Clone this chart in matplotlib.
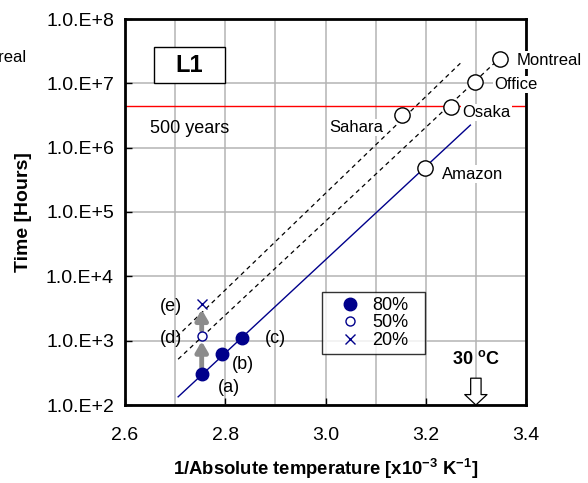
import matplotlib
matplotlib.use('Agg')
import numpy as np
import matplotlib.pyplot as plt
from matplotlib.ticker import FixedLocator
from matplotlib.patches import Rectangle

plt.rcParams['font.family'] = 'Liberation Sans'
plt.rcParams['mathtext.fontset'] = 'custom'
plt.rcParams['mathtext.rm'] = 'Liberation Sans'
plt.rcParams['mathtext.bf'] = 'Liberation Sans:bold'

# measured points (1/T [x1e-3 1/K], hours)
pt_x = [2.753, 2.793, 2.833]          # (a), (b), (c) at 80 %
pt_y = [301, 610, 1107]
d_x, d_y = 2.753, 1200                 # (d) 50 %
e_x, e_y = 2.753, 3660                 # (e) 20 %

# fitted lines (end points)
line80_x = [2.706, 3.289]
line80_y = [134, 2.24e6]
line50_x = [2.706, 3.345]
line50_y = [515, 2.36e7]
line20_x = [2.703, 3.269]
line20_y = [1146, 2.05e7]

# locations
places = ['Sahara', 'Osaka', 'Office', 'Montreal', 'Amazon']
place_x = [3.152, 3.250, 3.299, 3.348, 3.199]
place_y = [3.21e6, 4.24e6, 1.06e7, 2.36e7, 4.76e5]

limit_500y = 500 * 8760

navy = '#00008B'

fig = plt.figure(figsize=(5.88, 4.83), dpi=100)
ax = fig.add_axes([125/588, 78/483, 401/588, 386/483])
ax.set_yscale('log')
ax.set_xlim(2.6, 3.4)
ax.set_ylim(1e2, 1e8)

ax.xaxis.set_major_locator(FixedLocator([2.6, 2.8, 3.0, 3.2, 3.4]))
ax.xaxis.set_minor_locator(FixedLocator([2.7, 2.9, 3.1, 3.3]))
ax.set_xticklabels(['2.6', '2.8', '3.0', '3.2', '3.4'])
yt = [1e2, 1e3, 1e4, 1e5, 1e6, 1e7, 1e8]
ax.yaxis.set_major_locator(FixedLocator(yt))
ax.yaxis.set_minor_locator(FixedLocator([]))
ax.set_yticklabels(['1.0.E+%d' % int(np.log10(v)) for v in yt])
ax.tick_params(which='major', direction='in', length=5, width=1, labelsize=14)
ax.tick_params(axis='x', pad=16)
ax.tick_params(axis='y', pad=8)
ax.tick_params(which='minor', length=0)
ax.grid(True, which='both', color='#b4b4b4', linewidth=1.1)
ax.set_axisbelow(True)
for s in ax.spines.values():
    s.set_linewidth(2)

ax.axhline(limit_500y, color='red', lw=1, zorder=2)

ax.plot(line80_x, line80_y, color=navy, lw=1, zorder=3)
ax.plot(line50_x, line50_y, color='k', lw=0.9, ls=(0, (3.5, 3)), zorder=3)
ax.plot(line20_x, line20_y, color='k', lw=0.9, ls=(0, (3.5, 3)), zorder=3)

# gray arrows (a)->(d)->(e)
ax.annotate('', xy=(d_x, 982), xytext=(d_x, pt_y[0]),
            arrowprops=dict(arrowstyle='-|>,head_width=0.35,head_length=0.6',
                            color='#8c8c8c', lw=3.5, shrinkA=0, shrinkB=0), zorder=4)
ax.annotate('', xy=(e_x, 3055), xytext=(d_x, 1455),
            arrowprops=dict(arrowstyle='-|>,head_width=0.35,head_length=0.6',
                            color='#8c8c8c', lw=3.5, shrinkA=0, shrinkB=0), zorder=4)

h80, = ax.plot(pt_x, pt_y, 'o', color=navy, ms=9, zorder=5, label='80%')
h50, = ax.plot([d_x], [d_y], 'o', mfc='white', mec=navy, mew=1, ms=6.5, zorder=5, label='50%')
h20, = ax.plot([e_x], [e_y], 'x', color=navy, mew=1, ms=7, zorder=5, label='20%')

leg = ax.legend(handles=[h80, h50, h20], loc='upper left',
                bbox_to_anchor=(0.4905, 0.0, 0.257, 0.2935), mode='expand',
                fontsize=13, frameon=True, fancybox=False, edgecolor='k',
                borderpad=0.3, labelspacing=0.02, handletextpad=0.0, handlelength=2.5,
                borderaxespad=0)
leg.get_frame().set_linewidth(1)

ax.plot(place_x, place_y, 'o', mfc='white', mec='k', mew=1, ms=11, zorder=6, clip_on=False)

lab_kw = dict(fontsize=12, va='center', zorder=5,
              bbox=dict(fc='white', ec='none', pad=1))
ax.text(3.115, 2.07e6, 'Sahara', ha='right', **lab_kw)
ax.text(3.2727, 3.54e6, 'Osaka', ha='left', **lab_kw)
ax.text(3.3365, 9.64e6, 'Office', ha='left', clip_on=False, **lab_kw)
ax.text(3.3804, 2.30e7, 'Montreal', ha='left', clip_on=False, **lab_kw)
ax.text(3.2327, 3.88e5, 'Amazon', ha='left', **lab_kw)

ax.text(2.65, 2.02e6, '500 years', fontsize=13, va='center', ha='left')
ax.add_patch(Rectangle((0.0723, 0.8334), 0.1763, 0.0933, transform=ax.transAxes,
                       fc='white', ec='k', lw=1, zorder=5))
ax.text(0.0723 + 0.1763 / 2, 0.8334 + 0.0933 / 2, 'L1', transform=ax.transAxes,
        fontsize=17, fontweight='bold', ha='center', va='center', zorder=6)

for t, x, y in [('(e)', 2.692, 3350), ('(d)', 2.692, 1095), ('(c)', 2.901, 1085),
                ('(b)', 2.836, 428), ('(a)', 2.808, 187)]:
    ax.text(x, y, t, fontsize=13, ha='center', va='center')

ax.text(3.3, 515, r'30 $^{\mathbf{o}}$C', fontsize=13, fontweight='bold',
        ha='center', va='center')
ax.annotate('', xy=(3.3, 1e2), xytext=(3.3, 261),
            arrowprops=dict(arrowstyle='simple,head_width=1.6,head_length=0.75,tail_width=0.75',
                            fc='white', ec='k', lw=0.9, shrinkA=0, shrinkB=0))

ax.set_ylabel('Time [Hours]', fontsize=14, fontweight='bold', labelpad=10)
ax.set_xlabel(r'1/Absolute temperature [x10$^{\mathbf{-3}}$ K$^{\mathbf{-1}}$]',
              fontsize=13.3, fontweight='bold', labelpad=9)

# clipped label from neighbouring panel
fig.text(27/588, 1 - 57/483, 'Montreal', fontsize=12, ha='right', va='center')

fig.savefig('out.png', dpi=100)
